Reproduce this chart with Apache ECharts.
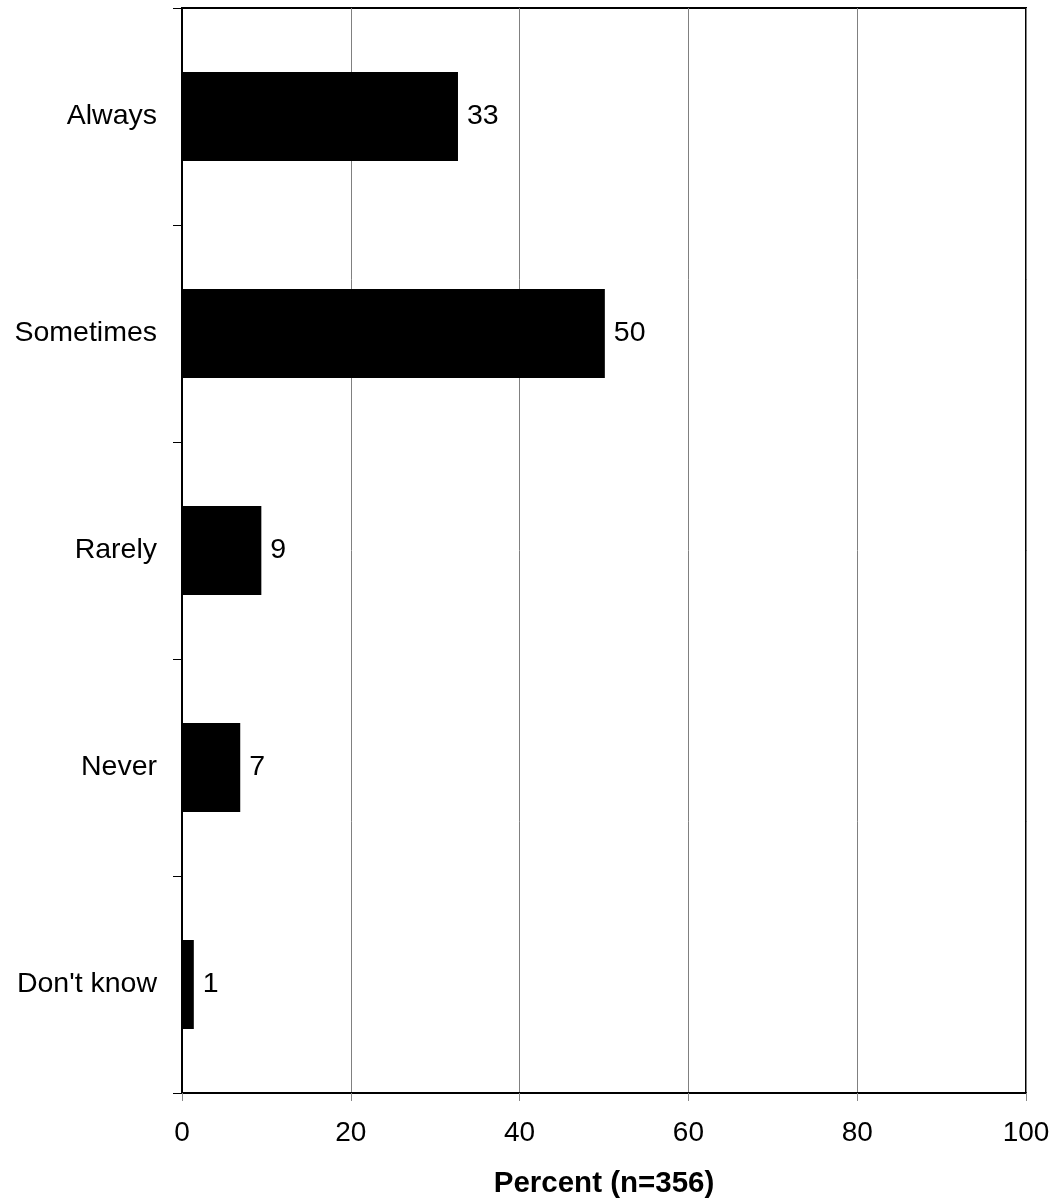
<!DOCTYPE html>
<html>
<head>
<meta charset="utf-8">
<script src="https://cdn.jsdelivr.net/npm/echarts@6/dist/echarts.min.js"></script>
<style>html,body{margin:0;padding:0;background:#fff}#c{width:1056px;height:1204px}</style>
</head>
<body>
<div id="c"></div>
<script>
const categories = ["Always", "Sometimes", "Rarely", "Never", "Don't know"];
const values = [32.7, 50.1, 9.4, 6.9, 1.4];
const xTicks = [0, 20, 40, 60, 80, 100];
const xTitle = "Percent (n=356)";

const chart = echarts.init(document.getElementById('c'), null, {renderer: 'canvas'});
const font = "Liberation Sans, Arial, sans-serif";
chart.setOption({
  animation: false,
  backgroundColor: '#fff',
  grid: {left: 182, right: 30, top: 8, bottom: 111, show: true, borderColor: '#000', borderWidth: 2, containLabel: false},
  xAxis: {
    type: 'value', min: xTicks[0], max: xTicks[xTicks.length - 1], interval: 20,
    axisLine: {show: true, lineStyle: {color: '#000', width: 2}},
    axisTick: {show: true, length: 8, lineStyle: {color: '#888', width: 1}},
    splitLine: {show: true, lineStyle: {color: '#808080', width: 1}},
    axisLabel: {color: '#000', fontSize: 28, fontFamily: font, margin: 26},
    name: xTitle, nameLocation: 'middle', nameGap: 76,
    nameTextStyle: {color: '#000', fontSize: 29.5, fontWeight: 'bold', fontFamily: font}
  },
  yAxis: {
    type: 'category', data: categories, inverse: true,
    axisLine: {show: true, lineStyle: {color: '#000', width: 2}},
    axisTick: {show: true, length: 9, lineStyle: {color: '#000', width: 1}},
    axisLabel: {color: '#000', fontSize: 28.5, fontFamily: font, margin: 25}
  },
  series: [{
    type: 'bar', data: values, barWidth: 89,
    itemStyle: {color: '#000'},
    label: {show: true, position: 'right', distance: 9, color: '#000', fontSize: 28.5, fontFamily: font,
      formatter: p => String(Math.round(p.value))}
  }]
});
</script>
</body>
</html>
